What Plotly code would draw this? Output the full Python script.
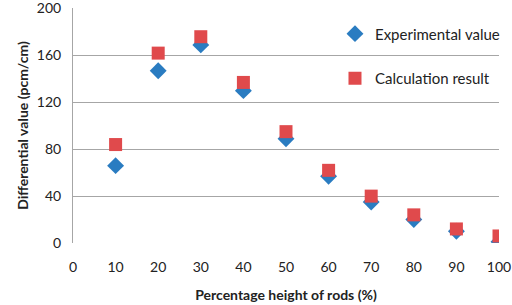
import plotly.graph_objects as go

heights = [10, 20, 30, 40, 50, 60, 70, 80, 90, 100]
experimental = [66, 147, 169, 130, 89, 57, 35, 20, 10, 1]
calculated = [84, 162, 176, 137, 95, 62, 40, 24, 12, 6]
x_ticks = [0, 10, 20, 30, 40, 50, 60, 70, 80, 90, 100]
y_ticks = [0, 40, 80, 120, 160, 200]

font = "Lato, 'Open Sans', sans-serif"

fig = go.Figure()
fig.add_trace(go.Scatter(x=heights, y=experimental, mode="markers", name="Experimental value",
                         legendgroup="a",
                         marker=dict(symbol="diamond", size=13, color="#2a7cc1")))
fig.add_trace(go.Scatter(x=heights, y=calculated, mode="markers", name="Calculation result",
                         legendgroup="b",
                         marker=dict(symbol="square", size=13, color="#e04a4c")))

fig.update_layout(
    width=512, height=305,
    margin=dict(l=73, r=13, t=8, b=62, autoexpand=False),
    paper_bgcolor="white", plot_bgcolor="white",
    font=dict(family=font, size=14, color="#222"),
    legend=dict(x=0.615, y=0.96, xanchor="left", yanchor="top", tracegroupgap=22,
                bgcolor="rgba(0,0,0,0)", font=dict(size=15), itemwidth=30),
    xaxis=dict(range=[0, 100], tickvals=x_ticks, showgrid=False, showline=False,
               zeroline=False, ticks="", ticklabelstandoff=14, ticklabeloverflow="allow",
               automargin=False,
               title=dict(text="<b>Percentage height of rods (%)</b>", standoff=16, font=dict(size=14))),
    yaxis=dict(range=[0, 200.5], tickmode="array", tickvals=y_ticks, showgrid=True, gridcolor="#a6a6a6", gridwidth=1,
               showline=True, linecolor="#a6a6a6", zeroline=False, ticks="", ticklabelstandoff=8,
               ticklabeloverflow="allow", automargin=False,
               title=dict(text="<b>Differential value (pcm/cm)</b>", standoff=4, font=dict(size=14))),
)
fig.write_html("out.html", config={"displayModeBar": False},
               post_script="document.body.style.margin='0';document.body.style.overflow='hidden';")
